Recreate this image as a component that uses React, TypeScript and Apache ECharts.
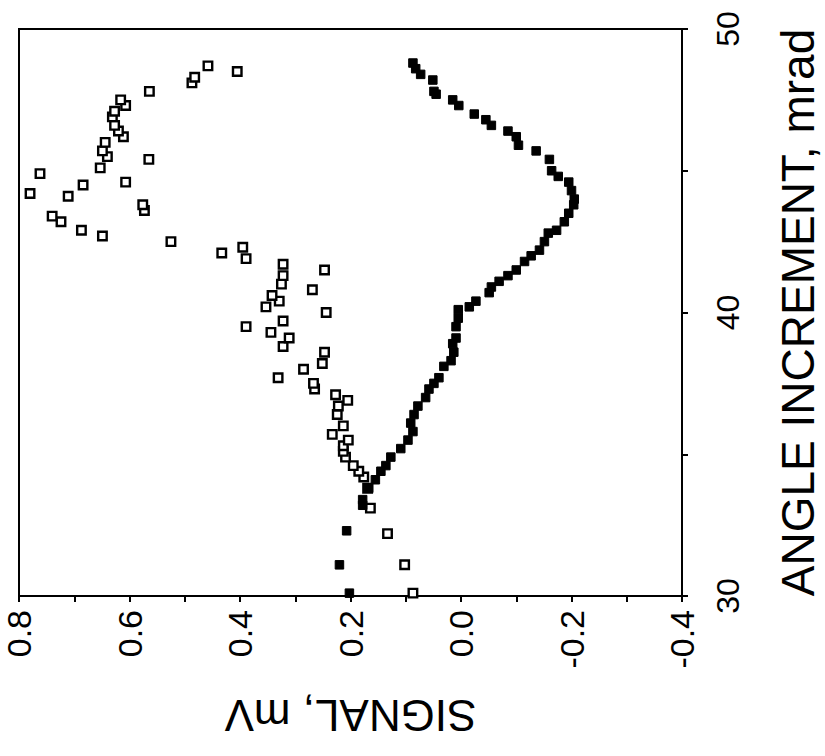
import React, { useEffect, useRef } from "react";
import * as echarts from "echarts";

// angle increment (mrad) and signal (mV) for the open-square measurement
const openAngle = [30.1, 31.1, 32.2, 33.1, 33.8, 34.2, 34.4, 34.6, 34.9, 35.1, 35.3, 35.5, 35.7, 36.0, 36.4, 36.7, 36.9, 37.1, 37.3, 37.5, 37.7, 38.0, 38.2, 38.6, 38.8, 39.1, 39.3, 39.5, 39.7, 40.0, 40.2, 40.4, 40.6, 40.8, 41.0, 41.3, 41.5, 41.7, 41.9, 42.1, 42.3, 42.5, 42.7, 42.9, 43.2, 43.4, 43.6, 43.8, 44.1, 44.2, 44.5, 44.6, 44.9, 45.1, 45.4, 45.5, 45.7, 46.0, 46.2, 46.4, 46.6, 46.9, 47.1, 47.3, 47.5, 47.8, 48.1, 48.3, 48.5, 48.7];
const openSignal = [0.087, 0.102, 0.133, 0.164, 0.169, 0.176, 0.185, 0.195, 0.209, 0.213, 0.213, 0.204, 0.233, 0.213, 0.224, 0.222, 0.205, 0.227, 0.265, 0.267, 0.331, 0.285, 0.251, 0.247, 0.322, 0.311, 0.344, 0.389, 0.322, 0.244, 0.353, 0.329, 0.342, 0.269, 0.325, 0.322, 0.247, 0.322, 0.389, 0.433, 0.395, 0.525, 0.649, 0.687, 0.724, 0.74, 0.573, 0.576, 0.711, 0.78, 0.684, 0.607, 0.762, 0.653, 0.565, 0.64, 0.649, 0.644, 0.611, 0.62, 0.627, 0.631, 0.627, 0.607, 0.616, 0.564, 0.487, 0.482, 0.405, 0.458];

// filled-square measurement
const filledAngle = [30.1, 31.1, 32.3, 33.2, 33.4, 33.8, 34.1, 34.4, 34.6, 34.9, 35.2, 35.5, 35.8, 36.1, 36.4, 36.7, 37.0, 37.3, 37.5, 37.7, 38.1, 38.3, 38.6, 38.9, 39.1, 39.5, 39.8, 40.1, 40.2, 40.4, 40.7, 40.9, 41.1, 41.3, 41.5, 41.8, 42.0, 42.2, 42.5, 42.8, 42.9, 43.2, 43.5, 43.8, 44.0, 44.3, 44.6, 44.8, 45.0, 45.4, 45.7, 45.9, 46.2, 46.4, 46.6, 46.8, 47.0, 47.3, 47.5, 47.7, 47.8, 48.2, 48.4, 48.6, 48.8];
const filledSignal = [0.202, 0.22, 0.207, 0.178, 0.178, 0.167, 0.155, 0.145, 0.136, 0.127, 0.109, 0.096, 0.087, 0.091, 0.085, 0.078, 0.064, 0.058, 0.049, 0.04, 0.031, 0.018, 0.013, 0.015, 0.009, 0.009, 0.005, 0.005, -0.015, -0.027, -0.051, -0.055, -0.069, -0.085, -0.1, -0.115, -0.127, -0.142, -0.151, -0.158, -0.173, -0.187, -0.195, -0.204, -0.205, -0.2, -0.195, -0.176, -0.164, -0.16, -0.136, -0.104, -0.1, -0.085, -0.055, -0.045, -0.024, 0.004, 0.015, 0.045, 0.049, 0.051, 0.073, 0.082, 0.087];

const signalTicks = { min: -0.4, max: 0.8, interval: 0.2 };
const angleTicks = { min: 30, max: 50, interval: 10 };

const FONT = "Liberation Sans, Arial, sans-serif";

export default function App() {
  const ref = useRef<HTMLDivElement>(null);
  useEffect(() => {
    if (!ref.current) return;
    const chart = echarts.init(ref.current, undefined, { renderer: "svg" });
    const open = openAngle.map((a, i) => [openSignal[i], a]);
    const filled = filledAngle.map((a, i) => [filledSignal[i], a]);
    chart.setOption({
      animation: false,
      backgroundColor: "#fff",
      grid: {
        left: 19,
        right: 143,
        top: 29,
        bottom: 160,
        show: true,
        borderColor: "#000",
        borderWidth: 2,
        containLabel: false,
        outerBoundsMode: "none",
      },
      xAxis: {
        type: "value",
        inverse: true,
        min: signalTicks.min,
        max: signalTicks.max,
        interval: signalTicks.interval,
        position: "bottom",
        axisLine: { show: true, onZero: false, lineStyle: { color: "#000", width: 2 } },
        axisTick: { show: true, inside: false, length: 6, lineStyle: { color: "#000", width: 2 } },
        minorTick: { show: true, splitNumber: 2, length: 6, lineStyle: { color: "#000", width: 2 } },
        splitLine: { show: false },
        axisLabel: {
          rotate: 90,
          margin: 14,
          fontSize: 34,
          color: "#000",
          fontFamily: FONT,
          formatter: (v: number) => {
            const s = v.toFixed(1);
            return s === "-0.0" ? "0.0" : s;
          },
        },
        name: "SIGNAL, mV",
        nameLocation: "middle",
        nameRotate: 180,
        nameGap: 97,
        nameTextStyle: { fontSize: 44, color: "#000", fontFamily: FONT },
      },
      yAxis: {
        type: "value",
        min: angleTicks.min,
        max: angleTicks.max,
        interval: angleTicks.interval,
        position: "right",
        axisLine: { show: true, onZero: false, lineStyle: { color: "#000", width: 2 } },
        axisTick: { show: true, inside: false, length: 6, lineStyle: { color: "#000", width: 2 } },
        minorTick: { show: true, splitNumber: 2, length: 6, lineStyle: { color: "#000", width: 2 } },
        splitLine: { show: false },
        axisLabel: {
          rotate: 90,
          margin: 30,
          fontSize: 32,
          color: "#000",
          fontFamily: FONT,
        },
        name: "ANGLE INCREMENT, mrad",
        nameLocation: "middle",
        nameRotate: 90,
        nameGap: 93,
        nameTextStyle: { fontSize: 46, color: "#000", fontFamily: FONT },
      },
      series: [
        {
          type: "scatter",
          data: open,
          symbol: "rect",
          symbolSize: 8.5,
          itemStyle: { color: "#fff", borderColor: "#000", borderWidth: 2.4, opacity: 1 },
        },
        {
          type: "scatter",
          data: filled,
          symbol: "rect",
          symbolSize: 8.5,
          itemStyle: { color: "#000", borderColor: "#000", borderWidth: 1, opacity: 1 },
        },
      ],
    });
    return () => chart.dispose();
  }, []);
  return (
    <div
      ref={ref}
      style={{ position: "fixed", left: 0, top: 0, width: 825, height: 756, background: "#fff" }}
    />
  );
}
